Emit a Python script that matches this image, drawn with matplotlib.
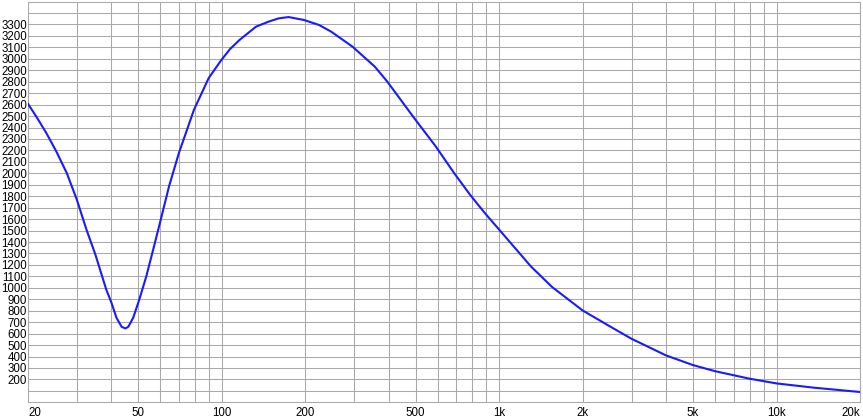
import numpy as np
import matplotlib
matplotlib.use("Agg")
import matplotlib.pyplot as plt
from matplotlib.ticker import FixedLocator, NullFormatter

# values (frequency in Hz, magnitude)
freq = [20, 21.5, 23.3, 25.3, 27.6, 30, 32.5, 35, 37.0, 38.3, 40.0, 41.7, 43.5, 44.9,
        46.0, 47.9, 50.4, 53.4, 56.5, 59.8, 64.5, 70.0, 79.3, 89.6, 99.6, 107, 115.8,
        132.8, 147, 160, 174, 198, 224, 248, 296, 356, 395, 494, 591, 688, 785, 887, 1000,
        1300, 1550, 2000, 2500, 3000, 4000, 5000, 6000, 8000, 10000, 13600, 20000]
value = [2607, 2490, 2351, 2191, 2002, 1770, 1508, 1290, 1101, 985, 869, 738, 660, 645,
         660, 738, 898, 1100, 1330, 1566, 1886, 2177, 2554, 2831, 2990, 3085, 3165,
         3281, 3324, 3353, 3365, 3339, 3296, 3237, 3106, 2932, 2801, 2482, 2234, 2002, 1813, 1654, 1508,
         1188, 1008, 802, 665, 555, 409, 325, 272, 206, 165, 128, 90]

xtick_pos = [20, 50, 100, 200, 500, 1000, 2000, 5000, 10000, 20000]
xtick_lab = ["20", "50", "100", "200", "500", "1k", "2k", "5k", "10k", "20k"]
ytick_pos = list(range(200, 3400, 100))

plt.rcParams['font.family'] = ['Liberation Sans', 'DejaVu Sans']

fig = plt.figure(figsize=(8.63, 4.19), dpi=100)
ax = fig.add_axes([28 / 863, (419 - 402.3) / 419, 832 / 863, 400.7 / 419])

grid_c = "#a9a9a9"
minor = [m * 10 ** e for e in range(1, 5) for m in range(1, 10)]
minor = [f for f in minor if 20 <= f <= 20000 and f not in xtick_pos]

ax.plot(freq, value, color="#1a1aff", lw=1.5, solid_joinstyle="round", zorder=3)

ax.set_xscale("log")
ax.set_xlim(20, 20000)
ax.set_ylim(0, 3500)
ax.xaxis.set_major_locator(FixedLocator(xtick_pos))
ax.xaxis.set_minor_locator(FixedLocator(minor))
ax.xaxis.set_minor_formatter(NullFormatter())
ax.set_xticklabels(xtick_lab)
ax.set_yticks(range(100, 3500, 100), minor=True)
ax.set_yticks(ytick_pos)
ax.set_yticklabels([str(v) for v in ytick_pos])

ax.grid(True, which="both", color=grid_c, lw=0.75)
ax.set_axisbelow(True)
for s in ax.spines.values():
    s.set_color(grid_c)
    s.set_linewidth(0.75)

ax.tick_params(axis="both", which="both", length=0, labelsize=8.3, colors="black")
ax.tick_params(axis="x", pad=3.5)
ax.tick_params(axis="y", pad=0.5)

xl = ax.get_xticklabels()
xl[0].set_ha("left")
xl[-1].set_ha("right")

fig.savefig("out.png", dpi=100)
